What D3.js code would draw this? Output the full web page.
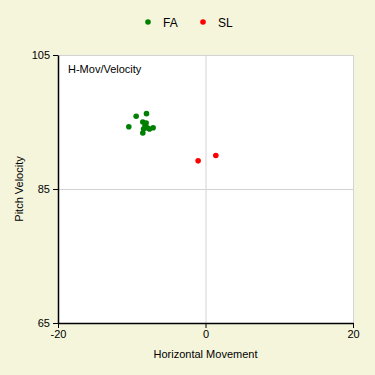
<!DOCTYPE html>
<html>
<head>
<meta charset="utf-8">
<script src="https://cdn.jsdelivr.net/npm/d3@7"></script>
<style>
  body { margin: 0; background: #f5f5dc; }
  text { font-family: "Liberation Sans", Arial, sans-serif; }
</style>
</head>
<body>
<div id="chart"></div>
<script>
// pitch types
const seriesNames = ['FA', 'SL'];
const seriesColors = ['#008000', '#ff0000'];

// FA: horizontal movement / velocity
const faMov = [-9.4, -8.0, -10.4, -8.5, -8.05, -8.2, -8.4, -8.5, -7.6, -7.1, -7.9];
const faVelo = [95.85, 96.25, 94.3, 95.0, 94.85, 94.45, 93.95, 93.35, 93.95, 94.15, 94.15];

// SL
const slMov = [-1.0, 1.4];
const slVelo = [89.2, 90.0];

const xTicks = [-20, 0, 20];
const yTicks = [65, 85, 105];

const width = 375;
const height = 375;
const margin = { top: 55, right: 22, bottom: 52, left: 58 };
const fontSize = '11px';

const svg = d3.select('#chart')
  .append('svg')
  .attr('width', width)
  .attr('height', height);

svg.append('rect')
  .attr('width', width)
  .attr('height', height)
  .attr('fill', '#f5f5dc');

const x = d3.scaleLinear()
  .domain([-20, 20])
  .range([margin.left, width - margin.right]);

const y = d3.scaleLinear()
  .domain([65, 105])
  .range([height - margin.bottom, margin.top]);

// plot area
svg.append('rect')
  .attr('x', x(-20))
  .attr('y', y(105))
  .attr('width', x(20) - x(-20))
  .attr('height', y(65) - y(105))
  .attr('fill', '#fff');

// grid
svg.append('g')
  .selectAll('line')
  .data(xTicks.slice(1))
  .join('line')
    .attr('x1', d => x(d) + 0.5)
    .attr('x2', d => x(d) + 0.5)
    .attr('y1', y(105))
    .attr('y2', y(65))
    .attr('stroke', '#d3d3d3');

svg.append('g')
  .selectAll('line')
  .data(yTicks.slice(1))
  .join('line')
    .attr('x1', x(-20))
    .attr('x2', x(20))
    .attr('y1', d => y(d) + 0.5)
    .attr('y2', d => y(d) + 0.5)
    .attr('stroke', '#d3d3d3');

// axes
const xAxis = svg.append('g')
  .attr('transform', `translate(0,${y(65)})`)
  .call(d3.axisBottom(x).tickValues(xTicks).tickFormat(d => String(d)).tickSize(5).tickSizeOuter(0));

const yAxis = svg.append('g')
  .attr('transform', `translate(${x(-20)},0)`)
  .call(d3.axisLeft(y).tickValues(yTicks).tickFormat(d => String(d)).tickSize(5).tickSizeOuter(0));

[xAxis, yAxis].forEach(g => {
  g.select('.domain').attr('stroke', '#000').attr('stroke-width', 1.5);
  g.selectAll('.tick line').attr('stroke', '#000');
  g.selectAll('.tick text')
    .attr('fill', '#000')
    .attr('font-size', fontSize)
    .attr('font-family', '"Liberation Sans", Arial, sans-serif');
});
xAxis.selectAll('.tick text').attr('dy', '0.65em');

// points
const series = [
  { mov: faMov, velo: faVelo },
  { mov: slMov, velo: slVelo }
];

series.forEach((s, i) => {
  svg.append('g')
    .attr('fill', seriesColors[i])
    .selectAll('circle')
    .data(s.mov.map((m, j) => [m, s.velo[j]]))
    .join('circle')
      .attr('cx', d => x(d[0]))
      .attr('cy', d => y(d[1]))
      .attr('r', 2.8);
});

// title inside plot
svg.append('text')
  .attr('x', x(-20) + 10)
  .attr('y', y(105) + 18)
  .attr('font-size', fontSize)
  .attr('fill', '#000')
  .text('H-Mov/Velocity');

// axis titles
svg.append('text')
  .attr('x', x(0))
  .attr('y', 358)
  .attr('text-anchor', 'middle')
  .attr('font-size', fontSize)
  .text('Horizontal Movement');

svg.append('text')
  .attr('transform', `translate(23,${(y(65) + y(105)) / 2}) rotate(-90)`)
  .attr('text-anchor', 'middle')
  .attr('font-size', fontSize)
  .text('Pitch Velocity');

// legend
const legend = svg.append('g')
  .selectAll('g')
  .data(seriesNames)
  .join('g')
    .attr('transform', (d, i) => `translate(${148 + i * 55},22)`);

legend.append('circle')
  .attr('r', 2.8)
  .attr('fill', (d, i) => seriesColors[i]);

legend.append('text')
  .attr('x', 15)
  .attr('y', 4.5)
  .attr('font-size', '12px')
  .text(d => d);
</script>
</body>
</html>
